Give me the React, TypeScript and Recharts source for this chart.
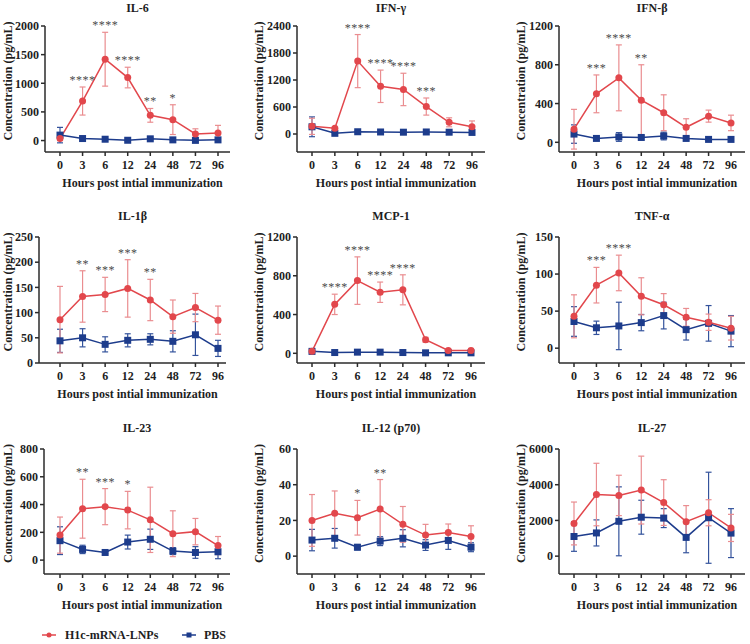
import React from 'react';
import { LineChart, Line, XAxis, YAxis, ErrorBar } from 'recharts';

const hours = ['0', '3', '6', '12', '24', '48', '72', '96'];

// IL-6
const il6Lnp = [35, 690, 1420, 1100, 440, 365, 115, 130];
const il6LnpSd = [30, 245, 470, 180, 120, 260, 90, 135];
const il6Pbs = [95, 35, 23, 5, 30, 12, 3, 12];
const il6PbsSd = [135, 15, 10, 10, 15, 10, 8, 10];
const il6Stars = ['', '****', '****', '****', '**', '*', '', ''];
const il6Ticks = [0, 500, 1000, 1500, 2000];

// IFN-γ
const ifngLnp = [170, 130, 1620, 1060, 990, 610, 260, 160];
const ifngLnpSd = [180, 20, 590, 360, 360, 190, 100, 130];
const ifngPbs = [160, 15, 50, 45, 40, 45, 40, 35];
const ifngPbsSd = [220, 15, 20, 15, 15, 15, 15, 15];
const ifngStars = ['', '', '****', '****', '****', '***', '', ''];
const ifngTicks = [0, 600, 1200, 1800, 2400];

// IFN-β
const ifnbLnp = [135, 500, 665, 435, 305, 155, 270, 200];
const ifnbLnpSd = [205, 195, 340, 365, 185, 88, 62, 80];
const ifnbPbs = [85, 40, 55, 50, 65, 40, 30, 30];
const ifnbPbsSd = [95, 15, 45, 15, 40, 15, 10, 10];
const ifnbStars = ['', '***', '****', '**', '', '', '', ''];
const ifnbTicks = [0, 400, 800, 1200];

// IL-1β
const il1bLnp = [86, 132, 136, 148, 125, 92, 110, 85];
const il1bLnpSd = [66, 51, 34, 57, 41, 33, 28, 28];
const il1bPbs = [44, 50, 37, 45, 47, 43, 56, 29];
const il1bPbsSd = [23, 18, 15, 13, 11, 21, 41, 16];
const il1bStars = ['', '**', '***', '***', '**', '', '', ''];
const il1bTicks = [0, 50, 100, 150, 200, 250];

// MCP-1
const mcp1Lnp = [20, 505, 750, 630, 655, 140, 30, 30];
const mcp1LnpSd = [10, 105, 245, 105, 155, 25, 15, 20];
const mcp1Pbs = [20, 8, 12, 12, 8, 5, 5, 5];
const mcp1PbsSd = [5, 5, 5, 5, 5, 5, 5, 5];
const mcp1Stars = ['', '****', '****', '****', '****', '', '', ''];
const mcp1Ticks = [0, 400, 800, 1200];

// TNF-α
const tnfLnp = [43, 85, 101.5, 70, 58.6, 41.6, 35, 27];
const tnfLnpSd = [29, 24, 24, 25, 15, 12, 11, 16];
const tnfPbs = [36, 27.5, 30, 34.5, 44, 25, 33.5, 23];
const tnfPbsSd = [20, 9, 32, 11, 18, 14, 24, 21];
const tnfStars = ['', '***', '****', '', '', '', '', ''];
const tnfTicks = [0, 50, 100, 150];

// IL-23
const il23Lnp = [180, 370, 385, 360, 290, 190, 205, 105];
const il23LnpSd = [130, 212, 130, 135, 235, 165, 95, 65];
const il23Pbs = [140, 77, 55, 130, 150, 65, 55, 60];
const il23PbsSd = [100, 30, 8, 50, 73, 25, 42, 50];
const il23Stars = ['', '**', '***', '*', '', '', '', ''];
const il23Ticks = [0, 200, 400, 600, 800];

// IL-12 (p70)
const il12Lnp = [20, 24, 21.5, 26.4, 17.8, 11.8, 13.3, 11];
const il12LnpSd = [14.5, 12.5, 9.7, 16.5, 10, 6, 4.7, 6];
const il12Pbs = [9, 10, 5, 8.4, 10, 6.2, 8.8, 5];
const il12PbsSd = [6, 5.5, 1.5, 2.5, 4.8, 3, 5, 2.5];
const il12Stars = ['', '', '*', '**', '', '', '', ''];
const il12Ticks = [0, 20, 40, 60];

// IL-27
const il27Lnp = [1830, 3450, 3400, 3700, 3000, 1930, 2430, 1580];
const il27LnpSd = [1200, 1750, 1130, 1900, 1280, 900, 730, 760];
const il27Pbs = [1100, 1300, 1950, 2180, 2130, 1050, 2150, 1290];
const il27PbsSd = [830, 730, 1930, 950, 530, 860, 2550, 1370];
const il27Stars = ['', '', '', '', '', '', '', ''];
const il27Ticks = [0, 2000, 4000, 6000];

const RED = '#e2474c';
const RED_ERR = '#ea8d90';
const BLUE = '#1d3c8c';
const BLUE_ERR = '#34539c';
const AXIS = '#2b2b2b';
const FONT = '"Liberation Serif", "Times New Roman", serif';

const Y_AXIS_W = 50;
const TOP_PAD = 30;
const X_AXIS_H = 50;
const RIGHT_PAD = 5;

// layout of each panel (pixel positions of the axes)
const panels = [
  { title: 'IL-6', lnp: il6Lnp, lnpSd: il6LnpSd, pbs: il6Pbs, pbsSd: il6PbsSd, stars: il6Stars, ticks: il6Ticks, domain: [-200, 2000], axisX: 45, x0: 60, x7: 218, xEnd: 230, yTop: 26, yBottom: 152, titleY: 8 },
  { title: 'IFN-γ', lnp: ifngLnp, lnpSd: ifngLnpSd, pbs: ifngPbs, pbsSd: ifngPbsSd, stars: ifngStars, ticks: ifngTicks, domain: [-400, 2400], axisX: 297, x0: 312, x7: 472, xEnd: 485, yTop: 26, yBottom: 152, titleY: 8 },
  { title: 'IFN-β', lnp: ifnbLnp, lnpSd: ifnbLnpSd, pbs: ifnbPbs, pbsSd: ifnbPbsSd, stars: ifnbStars, ticks: ifnbTicks, domain: [-100, 1200], axisX: 559, x0: 574, x7: 731, xEnd: 745, yTop: 26, yBottom: 152, titleY: 8 },
  { title: 'IL-1β', lnp: il1bLnp, lnpSd: il1bLnpSd, pbs: il1bPbs, pbsSd: il1bPbsSd, stars: il1bStars, ticks: il1bTicks, domain: [0, 250], axisX: 39, x0: 60, x7: 218, xEnd: 226, yTop: 237, yBottom: 363, titleY: 216 },
  { title: 'MCP-1', lnp: mcp1Lnp, lnpSd: mcp1LnpSd, pbs: mcp1Pbs, pbsSd: mcp1PbsSd, stars: mcp1Stars, ticks: mcp1Ticks, domain: [-100, 1200], axisX: 297, x0: 312, x7: 471, xEnd: 485, yTop: 237, yBottom: 363, titleY: 216 },
  { title: 'TNF-α', lnp: tnfLnp, lnpSd: tnfLnpSd, pbs: tnfPbs, pbsSd: tnfPbsSd, stars: tnfStars, ticks: tnfTicks, domain: [-20, 150], axisX: 559, x0: 574, x7: 731, xEnd: 745, yTop: 237, yBottom: 363, titleY: 216 },
  { title: 'IL-23', lnp: il23Lnp, lnpSd: il23LnpSd, pbs: il23Pbs, pbsSd: il23PbsSd, stars: il23Stars, ticks: il23Ticks, domain: [-100, 800], axisX: 44, x0: 60, x7: 218, xEnd: 230, yTop: 449, yBottom: 574, titleY: 428 },
  { title: 'IL-12 (p70)', lnp: il12Lnp, lnpSd: il12LnpSd, pbs: il12Pbs, pbsSd: il12PbsSd, stars: il12Stars, ticks: il12Ticks, domain: [-10, 60], axisX: 297, x0: 312, x7: 471, xEnd: 485, yTop: 449, yBottom: 574, titleY: 428 },
  { title: 'IL-27', lnp: il27Lnp, lnpSd: il27LnpSd, pbs: il27Pbs, pbsSd: il27PbsSd, stars: il27Stars, ticks: il27Ticks, domain: [-1000, 6000], axisX: 559, x0: 574, x7: 731, xEnd: 745, yTop: 449, yBottom: 574, titleY: 428 },
];

const tickStyle = { fontSize: 12, fontWeight: 700, fill: '#1e1e1e', fontFamily: FONT };

const renderXLabel = (props: any) => {
  const vb = props.viewBox || {};
  return (
    <text x={vb.x + vb.width / 2 + 5} y={vb.y + 35} textAnchor="middle"
      style={{ fontSize: 12, fontWeight: 700, fontFamily: FONT, fill: '#1e1e1e' }}>
      Hours post intial immunization
    </text>
  );
};

// y label sits ~38px left of the axis, but never closer than 8px to the page edge
const makeYLabel = (axisX: number) => (props: any) => {
  const vb = props.viewBox || {};
  const shift = Math.max(8 - (axisX - 38), 0);
  const cx = vb.x + vb.width - 38 + shift;
  const cy = vb.y + vb.height / 2 - 8;
  return (
    <text x={cx} y={cy} textAnchor="middle" dominantBaseline="central" transform={`rotate(-90 ${cx} ${cy})`}
      style={{ fontSize: 12, fontWeight: 700, fontFamily: FONT, fill: '#1e1e1e' }}>
      Concentration (pg/mL)
    </text>
  );
};

const renderSquare = (p: any) => (
  <rect key={`sq${p.index}`} x={p.cx - 3.5} y={p.cy - 3.5} width={7} height={7} fill={BLUE} />
);

const renderStars = (p: any) => {
  const s = p.payload && p.payload.stars;
  if (!s) return <g key={`st${p.index}`} />;
  return (
    <text key={`st${p.index}`} x={p.cx} y={p.cy - 3} textAnchor="middle"
      style={{ fontSize: 12, fontFamily: FONT, fill: '#4a4a4a', letterSpacing: 0.5 }}>
      {s}
    </text>
  );
};

function Panel({ cfg }: any) {
  const data = hours.map((h, i) => ({
    hour: h,
    lnp: cfg.lnp[i],
    lnpSd: cfg.lnpSd[i],
    pbs: cfg.pbs[i],
    pbsSd: cfg.pbsSd[i],
    top: cfg.lnp[i] + cfg.lnpSd[i],
    stars: cfg.stars[i],
  }));
  const plotW = cfg.xEnd - cfg.axisX;
  const plotH = cfg.yBottom - cfg.yTop;
  const w = Y_AXIS_W + plotW + RIGHT_PAD;
  const h = TOP_PAD + plotH + X_AXIS_H;

  return (
    <>
      <div style={{
        position: 'absolute', left: cfg.axisX, top: cfg.titleY - 8, width: plotW, textAlign: 'center',
        fontFamily: FONT, fontWeight: 700, fontSize: 12, lineHeight: '16px', color: '#1e1e1e',
      }}>
        {cfg.title}
      </div>
      <div style={{ position: 'absolute', left: cfg.axisX - Y_AXIS_W, top: cfg.yTop - TOP_PAD }}>
        <LineChart width={w} height={h} data={data} margin={{ top: TOP_PAD, right: RIGHT_PAD, bottom: 0, left: 0 }}>
          <XAxis
            dataKey="hour"
            height={X_AXIS_H}
            interval={0}
            padding={{ left: cfg.x0 - cfg.axisX, right: cfg.xEnd - cfg.x7 }}
            tick={tickStyle}
            tickSize={4}
            tickMargin={4}
            axisLine={{ stroke: AXIS, strokeWidth: 1.5 }}
            tickLine={{ stroke: AXIS, strokeWidth: 1.5 }}
            label={{ content: renderXLabel }}
          />
          <YAxis
            width={Y_AXIS_W}
            domain={cfg.domain}
            ticks={cfg.ticks}
            interval={0}
            tick={tickStyle}
            tickSize={4}
            tickMargin={2}
            axisLine={{ stroke: AXIS, strokeWidth: 1.5 }}
            tickLine={{ stroke: AXIS, strokeWidth: 1.5 }}
            label={{ content: makeYLabel(cfg.axisX) }}
          />
          <Line dataKey="pbs" stroke={BLUE} strokeWidth={1.5} dot={renderSquare} activeDot={false} isAnimationActive={false}>
            <ErrorBar dataKey="pbsSd" direction="y" width={3} stroke={BLUE_ERR} strokeWidth={1.2} />
          </Line>
          <Line dataKey="lnp" stroke={RED} strokeWidth={1.5} dot={{ r: 3.5, fill: RED, stroke: RED, strokeWidth: 0 }} activeDot={false} isAnimationActive={false}>
            <ErrorBar dataKey="lnpSd" direction="y" width={3} stroke={RED_ERR} strokeWidth={1.2} />
          </Line>
          <Line dataKey="top" stroke="none" dot={renderStars} activeDot={false} isAnimationActive={false} legendType="none" />
        </LineChart>
      </div>
    </>
  );
}

export default function App() {
  return (
    <div style={{ position: 'absolute', left: 0, top: 0, width: 750, height: 644, background: '#fff', overflow: 'hidden' }}>
      {panels.map((p) => (
        <Panel key={p.title} cfg={p} />
      ))}
      <svg style={{ position: 'absolute', left: 0, top: 627 }} width={300} height={16}>
        <line x1={42} x2={56} y1={8} y2={8} stroke={RED} strokeWidth={1.5} />
        <circle cx={49} cy={8} r={2.5} fill={RED} />
        <text x={65} y={12} style={{ fontSize: 12, fontWeight: 700, fontFamily: FONT, fill: '#1e1e1e' }}>H1c-mRNA-LNPs</text>
        <line x1={182} x2={196} y1={8} y2={8} stroke={BLUE} strokeWidth={1.5} />
        <rect x={186.5} y={5.5} width={5} height={5} fill={BLUE} />
        <text x={204} y={12} style={{ fontSize: 12, fontWeight: 700, fontFamily: FONT, fill: '#1e1e1e' }}>PBS</text>
      </svg>
    </div>
  );
}
